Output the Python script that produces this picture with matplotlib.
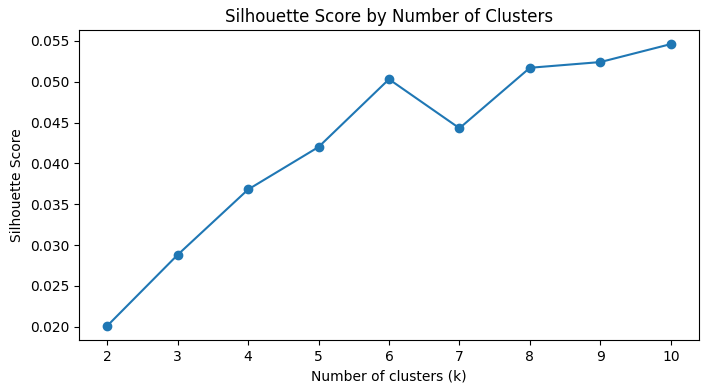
import matplotlib.pyplot as plt

k_values = [2, 3, 4, 5, 6, 7, 8, 9, 10]
silhouette = [0.0201, 0.0288, 0.0368, 0.0420, 0.0503, 0.0443, 0.0517, 0.0524, 0.0546]

fig = plt.figure(figsize=(7.09, 3.91), dpi=100)
ax = fig.add_axes([79 / 709, 1 - 340 / 391, (699 - 79) / 709, (340 - 30) / 391])

ax.plot(k_values, silhouette, marker="o")
ax.set_xticks(k_values)
ax.set_xlabel("Number of clusters (k)")
ax.set_ylabel("Silhouette Score")
ax.set_title("Silhouette Score by Number of Clusters")

fig.savefig("out.png", dpi=100)
